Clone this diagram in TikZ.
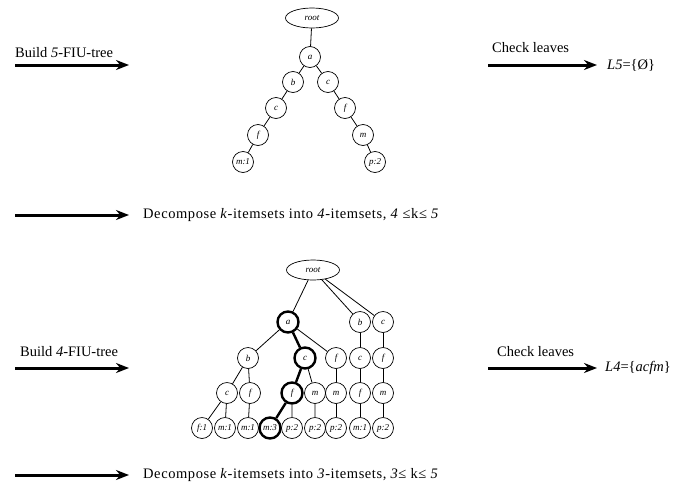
\documentclass[tikz,border=0pt]{standalone}
\usepackage{fontspec}
\setmainfont{Liberation Serif}
\usetikzlibrary{arrows.meta,shapes.geometric}

\begin{document}
\begin{tikzpicture}[x=1pt,y=-1pt,
    item/.style={draw,circle,minimum size=21pt,inner sep=0pt,line width=0.7pt,font=\fontsize{9}{9}\selectfont\itshape},
    rootnode/.style={draw,ellipse,minimum width=53pt,minimum height=20pt,inner sep=0pt,line width=0.7pt,font=\fontsize{9}{9}\selectfont\itshape},
    hot/.style={line width=2.4pt},
    link/.style={line width=0.8pt},
    bigarrow/.style={line width=3pt,-{Stealth[length=13pt,width=10pt]}},
    txt/.style={inner sep=0pt,font=\fontsize{14.5}{14.5}\selectfont},
    widetxt/.style={inner sep=0pt,font=\fontsize{14.5}{14.5}\selectfont\addfontfeatures{LetterSpace=4}}
]

    % Fix the page to the reference size
    \useasboundingbox (0,0) rectangle (688,485);

    % Row 1: build the 5-FIU-tree
    \coordinate (b5s) at (15,65);
    \coordinate (b5e) at (129,65);
    \draw[bigarrow] (b5s) -- (b5e);
    \node[txt,anchor=west] (b5t) at (15,53) {Build \textit{5}-FIU-tree};

    % The 5-FIU-tree
    \node[rootnode] (r1) at (312,18) {root};
    \node[item] (a1) at (310,57) {a};
    \node[item] (b1) at (293,82) {b};
    \node[item] (c1) at (328,82) {c};
    \node[item] (c2) at (276,108) {c};
    \node[item] (f2) at (345,108) {f};
    \node[item] (f3) at (258,135) {f};
    \node[item] (m3) at (363,135) {m};
    \node[item] (m4) at (243,162) {m:1};
    \node[item] (p4) at (375,162) {p:2};

    \draw[link] (r1) -- (a1);
    \draw[link] (a1) -- (b1) (b1) -- (c2) (c2) -- (f3) (f3) -- (m4);
    \draw[link] (a1) -- (c1) (c1) -- (f2) (f2) -- (m3) (m3) -- (p4);

    % Check leaves of the 5-FIU-tree
    \coordinate (c5s) at (488,65);
    \coordinate (c5e) at (597,65);
    \draw[bigarrow] (c5s) -- (c5e);
    \node[txt,anchor=west] (c5t) at (492,48) {Check leaves};
    \node[txt,anchor=west] (l5) at (607,65) {\textit{L5}=\{Ø\}};

    % Row 2: decompose into 4-itemsets
    \coordinate (d4s) at (15,215);
    \coordinate (d4e) at (129,215);
    \draw[bigarrow] (d4s) -- (d4e);
    \node[widetxt,anchor=west] (d4t) at (143,215) {Decompose \textit{k}-itemsets into \textit{4}-itemsets, \textit{4} ≤k≤ \textit{5}};

    % Row 3: build the 4-FIU-tree
    \coordinate (b4s) at (15,368);
    \coordinate (b4e) at (129,368);
    \draw[bigarrow] (b4s) -- (b4e);
    \node[txt,anchor=west] (b4t) at (20,352) {Build \textit{4}-FIU-tree};

    % The 4-FIU-tree
    \node[rootnode] (r2) at (313,270) {root};
    % level 1
    \node[item,hot] (ta) at (288,322) {a};
    \node[item] (tb) at (360,322) {b};
    \node[item] (tc) at (383,322) {c};
    % level 2
    \node[item] (tab) at (248,358) {b};
    \node[item,hot] (tac) at (305,358) {c};
    \node[item] (taf) at (336,358) {f};
    \node[item] (tbc) at (360,358) {c};
    \node[item] (tcf) at (383,358) {f};
    % level 3
    \node[item] (tabc) at (227,393) {c};
    \node[item] (tabf) at (250,393) {f};
    \node[item,hot] (tacf) at (292,393) {f};
    \node[item] (tacm) at (315,393) {m};
    \node[item] (tafm) at (336,393) {m};
    \node[item] (tbcf) at (360,393) {f};
    \node[item] (tcfm) at (383,393) {m};
    % level 4
    \node[item] (l1) at (202,428) {f:1};
    \node[item] (l2) at (225,428) {m:1};
    \node[item] (l3) at (248,428) {m:1};
    \node[item,hot] (l4) at (270,428) {m:3};
    \node[item] (l5) at (292,428) {p:2};
    \node[item] (l6) at (315,428) {p:2};
    \node[item] (l7) at (336,428) {p:2};
    \node[item] (l8) at (360,428) {m:1};
    \node[item] (l9) at (383,428) {p:2};

    \draw[link] (r2) -- (ta) (r2) -- (tb) (r2) -- (tc);
    \draw[link] (ta) -- (tab) (ta) -- (taf);
    \draw[link] (tab) -- (tabc) (tab) -- (tabf);
    \draw[link] (tabc) -- (l1) (tabc) -- (l2) (tabf) -- (l3);
    \draw[link] (tac) -- (tacm) (tacf) -- (l5) (tacm) -- (l6);
    \draw[link] (taf) -- (tafm) (tafm) -- (l7);
    \draw[link] (tb) -- (tbc) (tbc) -- (tbcf) (tbcf) -- (l8);
    \draw[link] (tc) -- (tcf) (tcf) -- (tcfm) (tcfm) -- (l9);
    % the bold path a-c-f-m:3
    \draw[hot] (ta) -- (tac) (tac) -- (tacf) (tacf) -- (l4);

    % Check leaves of the 4-FIU-tree
    \coordinate (c4s) at (488,368);
    \coordinate (c4e) at (597,368);
    \draw[bigarrow] (c4s) -- (c4e);
    \node[txt,anchor=west] (c4t) at (497,352) {Check leaves};
    \node[txt,anchor=west] (l4t) at (605,368) {\textit{L4}=\{\textit{acfm}\}};

    % Row 4: decompose into 3-itemsets
    \coordinate (d3s) at (15,475);
    \coordinate (d3e) at (129,475);
    \draw[bigarrow] (d3s) -- (d3e);
    \node[widetxt,anchor=west] (d3t) at (143,475) {Decompose \textit{k}-itemsets into \textit{3}-itemsets, \textit{3}≤ k≤ \textit{5}};

\end{tikzpicture}
\end{document}
